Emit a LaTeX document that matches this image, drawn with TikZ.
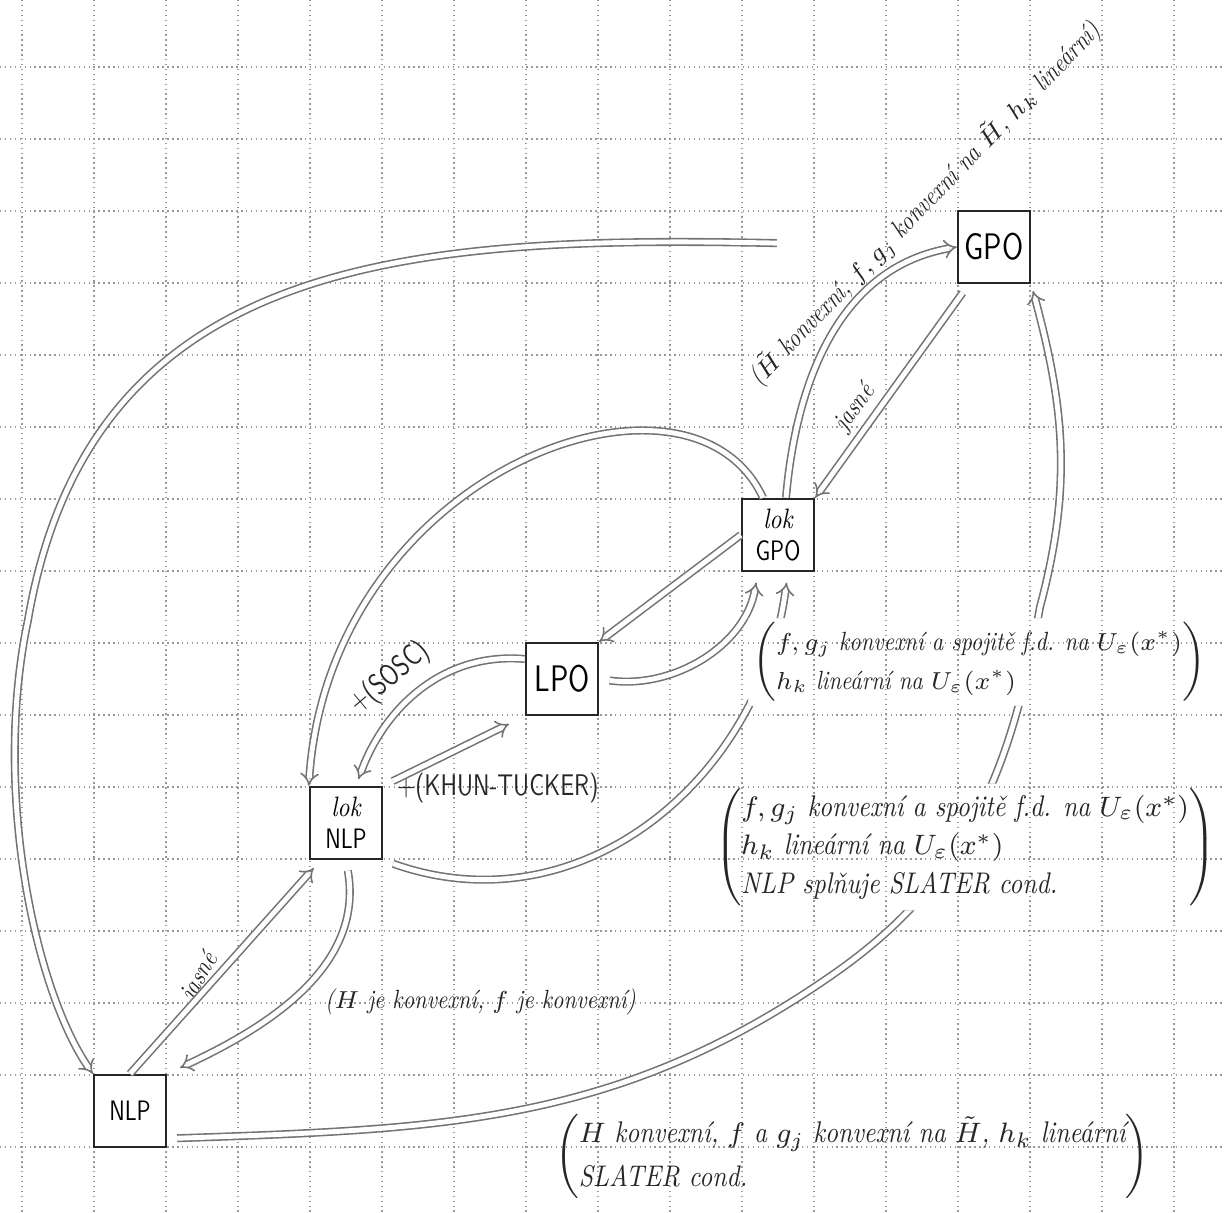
\documentclass[tikz,border=0pt]{standalone}
\usepackage{fontspec}
\usepackage{amsmath}
\usepackage{graphicx}
\usetikzlibrary{arrows.meta}

\newfontfamily\handfont{lmroman10-italic.otf}[FakeStretch=0.85]
\newfontfamily\capsfont{lmsans10-regular.otf}[FakeStretch=0.78]

\begin{document}
\begin{tikzpicture}[
    box/.style={
        draw=black!85,
        line width=0.7pt,
        minimum width=0.72cm,
        minimum height=0.72cm,
        inner sep=0pt,
        align=center
    },
    imp/.style={
        draw=black!55,
        line width=0.45pt,
        double=white,
        double distance=1.4pt,
        -{Implies}
    },
    note/.style={
        inner sep=1pt,
        text=black!85,
        font=\handfont\fontsize{7.5}{11}\selectfont
    },
    caps/.style={
        inner sep=1pt,
        text=black!85,
        font=\capsfont\fontsize{8.5}{10}\selectfont
    },
    gridline/.style={
        black!40,
        densely dotted,
        line width=0.4pt
    }
]

\useasboundingbox (0,0) rectangle (12.24,-12.13);

% squared paper
\foreach \k in {0,...,16}
    \draw[gridline] ({0.22+0.72*\k},0) -- ({0.22+0.72*\k},-12.13);
\foreach \k in {0,...,15}
    \draw[gridline] (0,{-0.67-0.72*\k}) -- (12.24,{-0.67-0.72*\k});

% ==================================================
% Problems
% ==================================================

\node[box, font=\capsfont\fontsize{10.5}{12}\selectfont] (GPO) at (9.94,-2.47) {GPO};

\node[box, font=\handfont\fontsize{8}{9}\selectfont] (lokGPO) at (7.78,-5.35)
{lok\\{\capsfont GPO}};

\node[box, font=\capsfont\fontsize{10.5}{12}\selectfont] (LPO) at (5.62,-6.79) {LPO};

\node[box, font=\handfont\fontsize{8}{9}\selectfont] (lokNLP) at (3.46,-8.23)
{lok\\{\capsfont NLP}};

\node[box, font=\capsfont\fontsize{8}{10}\selectfont] (NLP) at (1.30,-11.11) {NLP};

% ==================================================
% Labels
% ==================================================

\node[note, rotate=46] (lTilde) at (9.25,-2.04)
{($\tilde H$ konvexní, $f, g_j$ konvexní na $\tilde H$, $h_k$ lineární)};

\node[note, rotate=53] (lJasneG) at (8.55,-4.08) {jasné};

\node[caps, rotate=40] (lSOSC) at (3.90,-6.78) {+(SOSC)};

\node[caps, anchor=west] (lKT) at (3.93,-7.88) {+(KHUN-TUCKER)};

\node[note, rotate=60] (lJasneN) at (2.00,-9.77) {jasné};

\node[note, anchor=west] (lConvex) at (3.21,-10.02)
{($H$ je konvexní, $f$ je konvexní)};

% conditions
\node[note, anchor=west] (cTop) at (7.48,-6.62)
{$\left(\begin{tabular}{@{}l@{}}
    $f, g_j$ konvexní a spojitě f.d. na $U_\varepsilon(x^*)$\\
    $h_k$ lineární na $U_\varepsilon(x^*)$
\end{tabular}\right)$};

\node[note, anchor=west, font=\handfont\fontsize{8.5}{11}\selectfont] (cMid) at (7.11,-8.47)
{$\left(\begin{tabular}{@{}l@{}}
    $f, g_j$ konvexní a spojitě f.d. na $U_\varepsilon(x^*)$\\
    $h_k$ lineární na $U_\varepsilon(x^*)$\\
    NLP splňuje SLATER cond.
\end{tabular}\right)$};

\node[note, anchor=west, font=\handfont\fontsize{8.5}{12.5}\selectfont] (cBot) at (5.51,-11.56)
{$\left(\begin{tabular}{@{}l@{}}
    $H$ konvexní, $f$ a $g_j$ konvexní na $\tilde H$, $h_k$ lineární\\
    SLATER cond.
\end{tabular}\right)$};

% ==================================================
% Implications
% ==================================================

\begin{scope}
    % leave the condition texts free
    \clip (0,0) -- (0,-12.13) -- (12.24,-12.13) -- (12.24,0) -- cycle
        (cTop.north west) -- (cTop.north east) -- (cTop.south east) -- (cTop.south west) -- cycle
        (cMid.north west) -- (cMid.north east) -- (cMid.south east) -- (cMid.south west) -- cycle;

    % GPO => NLP, round the left
    \draw[imp, shorten <=1.8cm] (GPO.west)
        .. controls (4.0,-2.35) and (0.9,-2.6) .. (0.28,-6.2)
        .. controls (-0.08,-7.9) and (0.35,-9.9) .. (NLP.north west);

    % lok GPO => lok NLP
    \draw[imp] ([xshift=-0.15cm]lokGPO.north)
        .. controls (6.9,-3.4) and (3.3,-4.7) .. (lokNLP.north west);

    % GPO <=> lok GPO
    \draw[imp, shorten <=3pt] ([xshift=0.12cm]GPO.south west) -- (lokGPO.north east);
    \draw[imp] ([xshift=0.08cm]lokGPO.north) to[out=85,in=190] (GPO.west);

    % lok GPO <=> LPO
    \draw[imp] (lokGPO.west) -- (LPO.north east);
    \draw[imp, shorten <=3pt, shorten >=3pt] (LPO.east) to[out=-8,in=-100] ([xshift=-0.2cm]lokGPO.south);

    % LPO <=> lok NLP
    \draw[imp, shorten >=2pt] ([yshift=0.2cm]LPO.west) to[out=175,in=70] ([xshift=0.1cm]lokNLP.north);
    \draw[imp, shorten <=3pt, shorten >=5pt] (lokNLP.north east) -- (LPO.south west);

    % NLP <=> lok NLP
    \draw[imp, shorten >=3pt] (NLP.north) -- ([xshift=0.12cm]lokNLP.south west);
    \draw[imp, shorten <=3pt, shorten >=4pt] (lokNLP.south) to[out=-80,in=25] (NLP.north east);

    % lok NLP => lok GPO
    \draw[imp, shorten <=3pt, shorten >=3pt] (lokNLP.south east)
        .. controls (5.8,-9.3) and (7.6,-7.8) .. ([xshift=0.1cm]lokGPO.south);

    % NLP => GPO
    \draw[imp, shorten >=2pt] ([shift={(0.1,0.1)}]NLP.south east)
        to[out=2,in=215] (8.35,-9.73)
        to[out=35,in=-100] (10.40,-6.07)
        to[out=75,in=-75] (GPO.south east);
\end{scope}

\end{tikzpicture}
\end{document}
